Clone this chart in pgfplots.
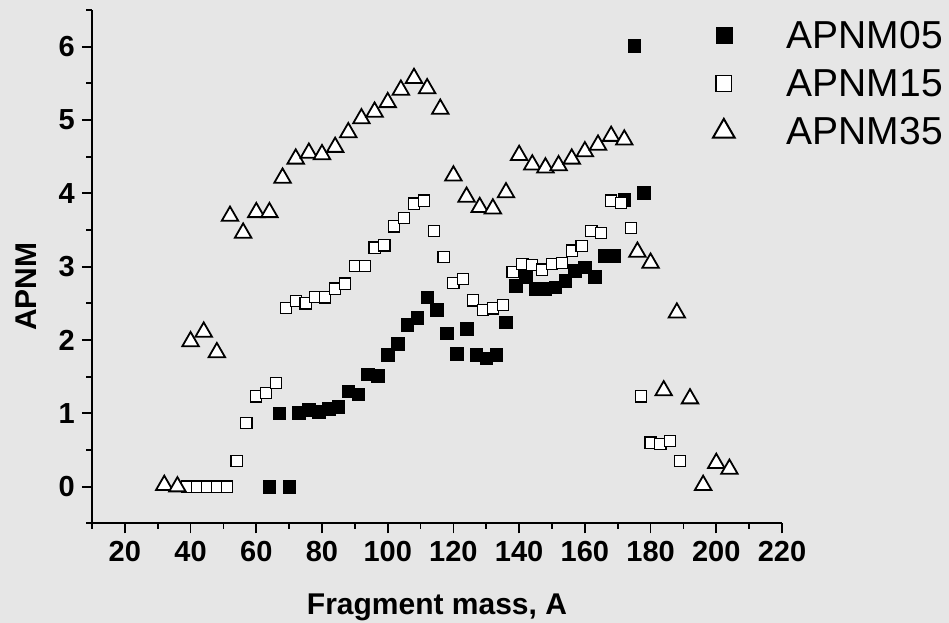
\documentclass[border=0pt]{standalone}
\usepackage{pgfplots}
\pgfplotsset{compat=1.18}
\usepackage{fontspec}
\setmainfont{Liberation Sans}
\definecolor{bg}{RGB}{230,230,230}

\pgfplotstableread{
x y
64 0
67 1.00
70 0
73 1.01
76 1.05
79 1.02
82 1.06
85 1.09
88 1.30
91 1.26
94 1.53
97 1.51
100 1.80
103 1.95
106 2.21
109 2.30
112 2.58
115 2.41
118 2.09
121 1.81
124 2.15
127 1.80
130 1.75
133 1.80
136 2.24
139 2.74
142 2.86
145 2.70
148 2.70
151 2.72
154 2.81
157 2.94
160 2.99
163 2.86
166 3.15
169 3.15
172 3.91
175 6.01
178 4.01
}\apnmA

\pgfplotstableread{
x y
39 0
42 0
45 0
48 0
51 0
54 0.35
57 0.87
60 1.23
63 1.28
66 1.41
69 2.44
72 2.53
75 2.50
78 2.59
81 2.58
84 2.70
87 2.77
90 3.01
93 3.01
96 3.26
99 3.29
102 3.55
105 3.66
108 3.86
111 3.90
114 3.49
117 3.13
120 2.78
123 2.83
126 2.54
129 2.41
132 2.43
135 2.48
138 2.93
141 3.04
144 3.02
147 2.96
150 3.04
153 3.05
156 3.22
159 3.28
162 3.49
165 3.46
168 3.90
171 3.87
174 3.53
177 1.23
180 0.60
183 0.58
186 0.62
189 0.35
}\apnmB

\pgfplotstableread{
x y
32 0.02
36 0.00
40 1.98
44 2.11
48 1.83
52 3.69
56 3.46
60 3.74
64 3.74
68 4.21
72 4.47
76 4.55
80 4.53
84 4.63
88 4.83
92 5.02
96 5.11
100 5.24
104 5.41
108 5.57
112 5.43
116 5.15
120 4.24
124 3.95
128 3.81
132 3.79
136 4.01
140 4.52
144 4.39
148 4.35
152 4.38
156 4.47
160 4.57
164 4.66
168 4.78
172 4.73
176 3.20
180 3.05
184 1.31
188 2.37
192 1.20
196 0.02
200 0.32
204 0.24
}\apnmC

\begin{document}
\begin{tikzpicture}
\fill[bg] (0,0) rectangle (949bp,623bp);
\begin{axis}[
  at={(92bp,99.7bp)}, anchor=south west,
  scale only axis, width=690bp, height=513.3bp,
  xmin=10, xmax=220, ymin=-0.5, ymax=6.5,
  axis lines=left,
  axis line style={line width=1.8bp, -, black},
  xtick={20,40,...,220},
  minor xtick={10,30,...,210},
  ytick={0,1,...,6},
  minor ytick={-0.5,0.5,...,6.5},
  tick align=outside,
  major tick length=10bp,
  minor tick length=5.5bp,
  every tick/.style={line width=1.8bp, black},
  /pgf/number format/assume math mode=true,
  tick label style={font=\fontsize{29bp}{34bp}\selectfont\bfseries, inner sep=0pt},
  yticklabel style={anchor=east, xshift=-7bp},
  xticklabel style={anchor=north, yshift=-8bp},
  xlabel={Fragment mass, A},
  ylabel={APNM},
  every axis x label/.style={at={(axis description cs:0.5,-0.1786)}, anchor=base,
    font=\fontsize{30bp}{36bp}\selectfont\bfseries, inner sep=0pt},
  every axis y label/.style={at={(axis description cs:-0.0801,0.461)}, anchor=base, rotate=90,
    font=\fontsize{30bp}{36bp}\selectfont\bfseries, inner sep=0pt},
  legend image code/.code={\draw[#1] plot coordinates {(0bp,0bp)};},
  legend cell align=left,
  legend style={at={(0.9,0.9786)}, anchor=north west, draw=none, fill=none,
    inner sep=0pt, outer sep=0pt, row sep=19.5bp, column sep=52bp,
    font=\fontsize{39bp}{46bp}\selectfont, nodes={inner sep=0pt}},
  clip=false,
]
\addplot[forget plot, only marks, mark=square*, mark size=6.3bp,
  mark options={fill=black, draw=black, line width=0.6bp}] table {\apnmA};
\addplot[forget plot, only marks, mark=square*, mark size=5.6bp,
  mark options={fill=white, draw=black, line width=1.2bp}] table {\apnmB};
\addplot[forget plot, only marks, mark=triangle*, mark size=9.5bp,
  mark options={fill=white, draw=black, line width=1.8bp}] table {\apnmC};
\addlegendimage{mark=square*, mark size=8bp, mark options={fill=black, draw=black, line width=0.6bp}}
\addlegendentry{APNM05}
\addlegendimage{mark=square*, mark size=7.8bp, mark options={fill=white, draw=black, line width=1.2bp}}
\addlegendentry{APNM15}
\addlegendimage{mark=triangle*, mark size=12.5bp, mark options={fill=white, draw=black, line width=2bp}}
\addlegendentry{APNM35}
\end{axis}
\pgfresetboundingbox
\useasboundingbox (0,0) rectangle (949bp,623bp);
\end{tikzpicture}
\end{document}
